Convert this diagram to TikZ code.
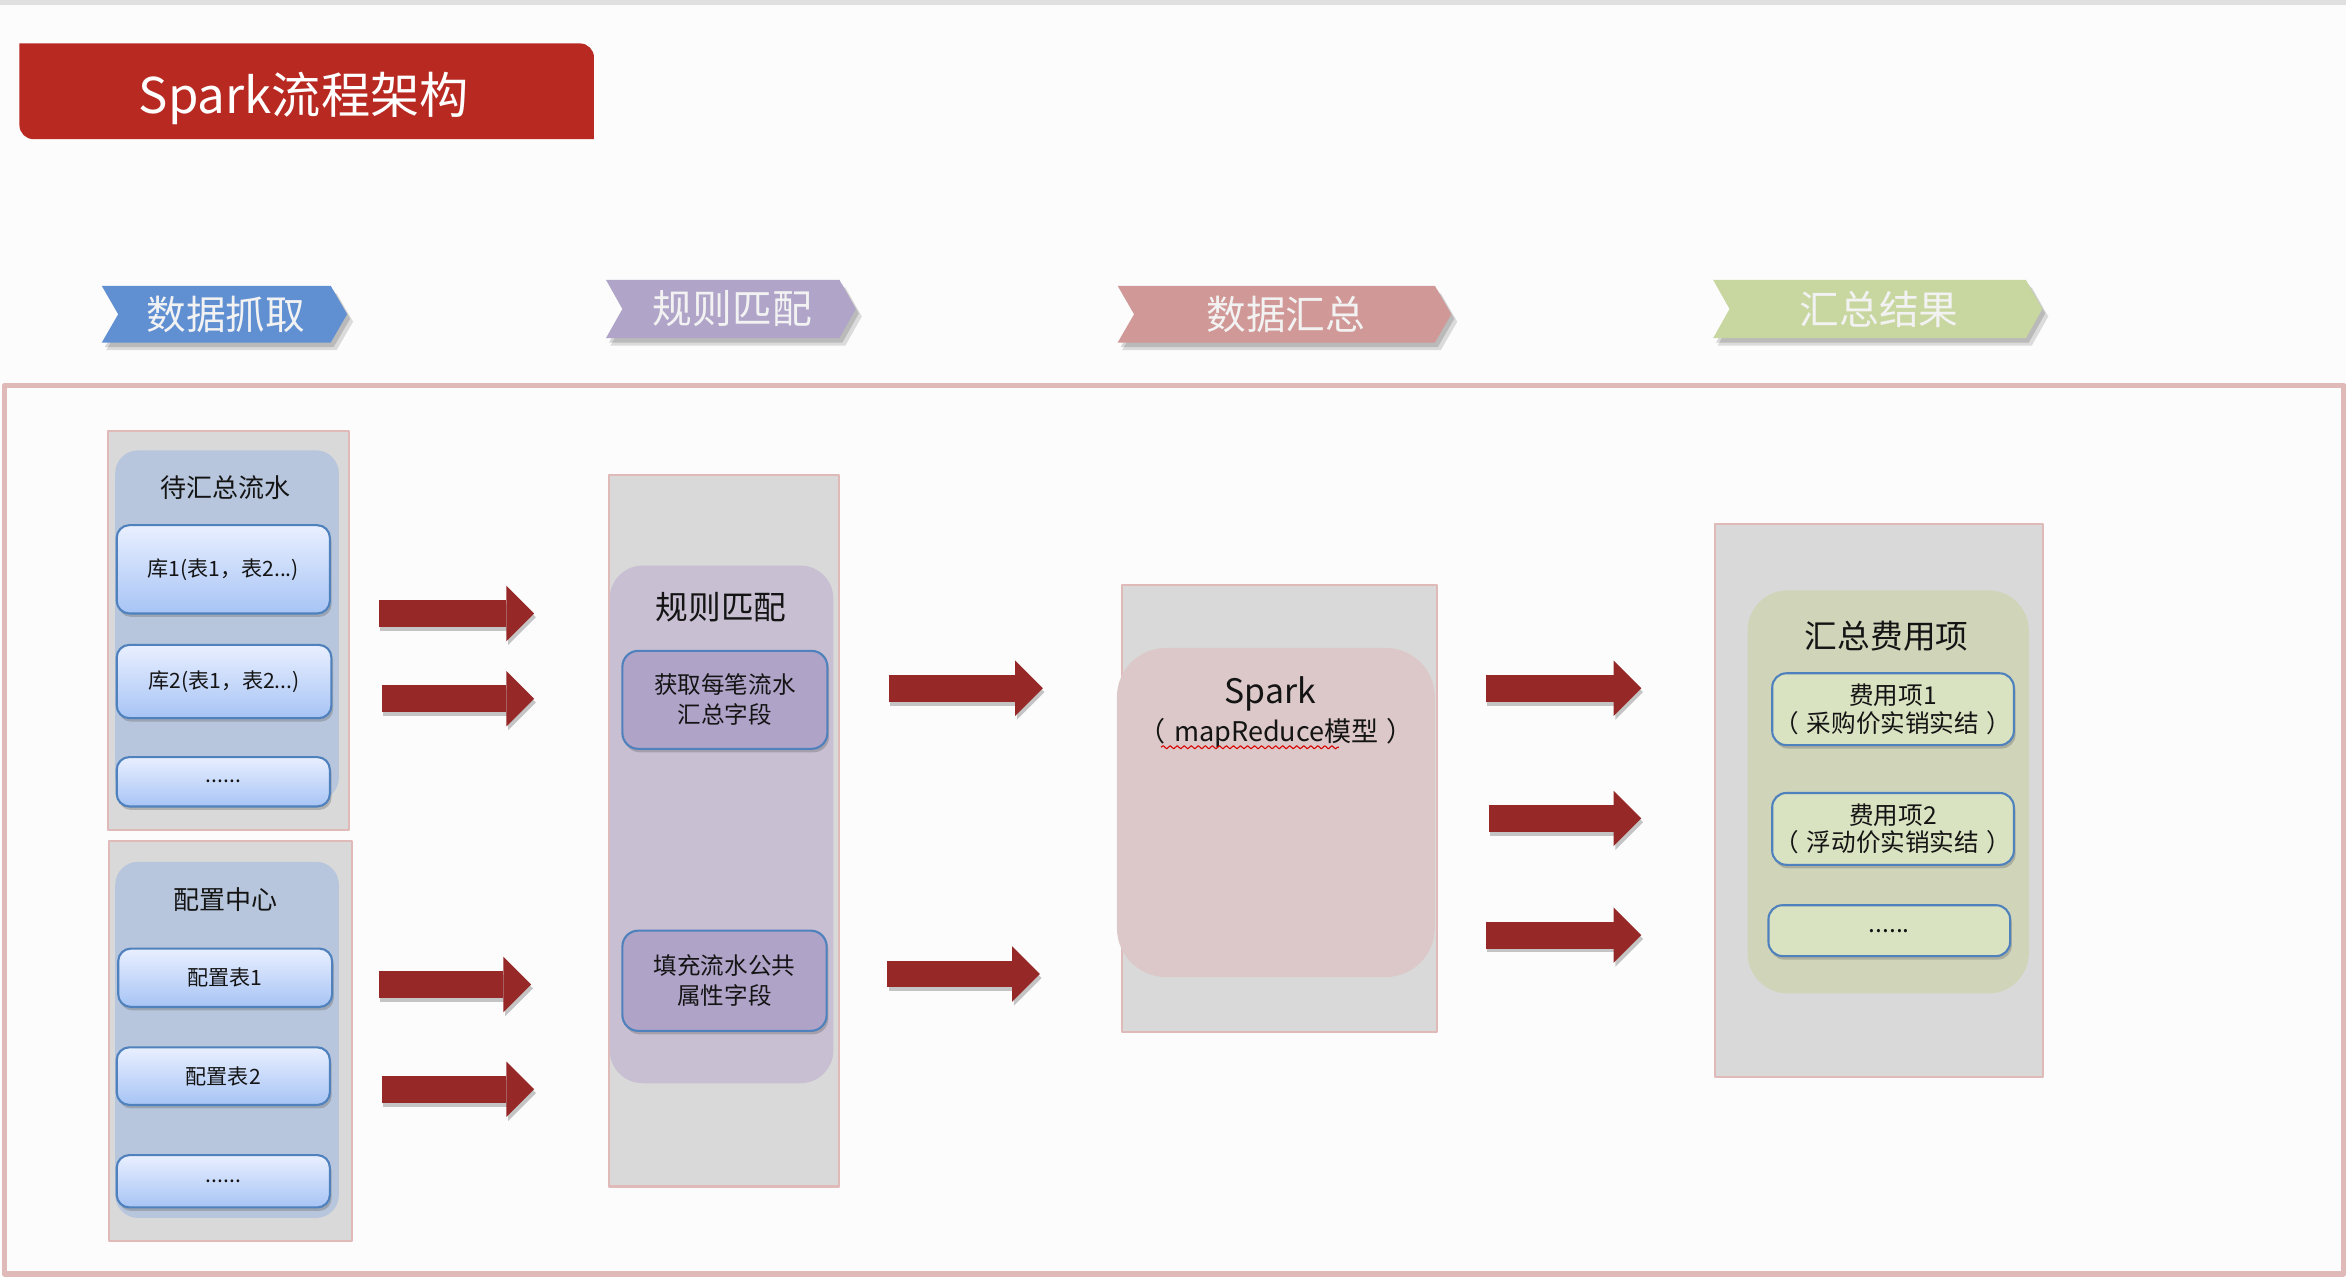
\documentclass[tikz,border=0pt]{standalone}
\usepackage{fontspec}
\setmainfont{Noto Sans CJK SC}
\usetikzlibrary{arrows.meta,fit,shadows,decorations.pathmorphing}
\definecolor{paper}{RGB}{252,252,252}
\definecolor{titlered}{RGB}{184,41,34}
\definecolor{arrowred}{RGB}{150,40,40}
\definecolor{framepink}{RGB}{224,186,184}
\definecolor{panelgray}{RGB}{217,217,217}
\definecolor{stepblue}{RGB}{96,143,210}
\definecolor{steppurple}{RGB}{176,164,200}
\definecolor{steppink}{RGB}{208,152,150}
\definecolor{stepgreen}{RGB}{200,215,160}
\definecolor{groupblue}{RGB}{183,198,220}
\definecolor{grouppurple}{RGB}{200,191,210}
\definecolor{grouppink}{RGB}{220,200,200}
\definecolor{groupgreen}{RGB}{208,213,186}
\definecolor{itemline}{RGB}{79,129,189}
\definecolor{itemtop}{RGB}{233,239,255}
\definecolor{itembottom}{RGB}{167,196,245}
\definecolor{itempurple}{RGB}{175,163,200}
\definecolor{itemgreen}{RGB}{217,226,193}
\definecolor{ink}{RGB}{20,20,20}
\begin{document}
\begin{tikzpicture}[x=0.1496mm, y=-0.1496mm, line join=round, text=ink,
	panel/.style={fill=panelgray, draw=framepink, line width=0.6pt, inner sep=0pt},
	group/.style={fill=#1, inner sep=0pt},
	boxsize/.style 2 args={minimum width=#1*0.1496mm, minimum height=#2*0.1496mm},
	item/.style={draw=itemline, line width=0.6pt, rounded corners=3.6pt, inner sep=0pt, align=center,
		drop shadow={shadow xshift=0.5pt, shadow yshift=-1pt, opacity=0.35, fill=black!60}},
	itemblue/.style={item, top color=itemtop, bottom color=itembottom, font=\fontsize{6}{7.5}\selectfont},
	itempurple/.style={item, fill=itempurple, rounded corners=4.5pt, font=\fontsize{6.7}{8.5}\selectfont},
	itemgreen/.style={item, fill=itemgreen, rounded corners=4pt, font=\fontsize{7}{7.9}\selectfont},
	grouptitle/.style={font=\fontsize{7.4}{9}\selectfont},
	bigtitle/.style={font=\fontsize{9.3}{11}\selectfont},
	steptext/.style={text=white!95!black, font=\fontsize{11.3}{13}\selectfont},
	bigarrow/.style={arrowred, line width=2.69mm, -{Triangle[length=2.77mm, width=5.54mm, line width=0pt]}},
	arrowshade/.style={bigarrow, black, opacity=0.22, transform canvas={shift={(0.5pt,-1.1pt)}}}]
	\useasboundingbox (0,0) rectangle (1568,852.9);
	\fill[paper] (0,0) rectangle (1568,852.9);
	\fill[black!12] (0,0) rectangle (1568,3);
	% title
	\fill[titlered] (13,61) -- (13,29) [rounded corners=4pt] -- (397,29) [sharp corners] -- (397,93) [rounded corners=4pt] -- (13,93) [sharp corners] -- cycle;
	\node[text=white, font=\fontsize{14}{16}\selectfont] (title) at (203,66) {Spark流程架构};
	% steps
	\foreach \n/\xa/\xb/\ya/\yb/\c/\t in {s1/68/232/191/229/stepblue/数据抓取, s2/405/572/187/226/steppurple/规则匹配, s3/747/970/191/229/steppink/数据汇总, s4/1145/1365/187/226/stepgreen/汇总结果} {
		\fill[black, opacity=0.13] (\xa+3,\ya+5) -- (\xb-7,\ya+5) -- (\xb+4,{(\ya+\yb)/2+5}) -- (\xb-7,\yb+5) -- (\xa+3,\yb+5) -- (\xa+14,{(\ya+\yb)/2+5}) -- cycle;
		\fill[black, opacity=0.15] (\xa+2,\ya+3) -- (\xb-9,\ya+3) -- (\xb+2,{(\ya+\yb)/2+3}) -- (\xb-9,\yb+3) -- (\xa+2,\yb+3) -- (\xa+13,{(\ya+\yb)/2+3}) -- cycle;
		\fill[\c] (\xa,\ya) -- (\xb-11,\ya) -- (\xb,{(\ya+\yb)/2}) -- (\xb-11,\yb) -- (\xa,\yb) -- (\xa+11,{(\ya+\yb)/2}) -- cycle;
		\node[steptext] (\n) at ({(\xa+\xb)/2+1},{(\ya+\yb)/2}) {\t};
	}
	\node[draw=framepink, line width=1.5pt, inner sep=0pt, fit={(3,257.5) (1566.5,851.5)}] (stage) {};
	% column 1
	\node[panel, fit={(72,288) (233,555)}] (p1) {};
	\node[group=groupblue, rounded corners=6.5pt, fit={(77,301) (226.5,535)}] (g1) {};
	\node[grouptitle] (g1t) at (151,326) {待汇总流水};
	\node[itemblue, boxsize={142.5}{59}] (k1) at (149.25,380.5) {库1(表1，表2...)};
	\node[itemblue, boxsize={143.5}{49}] (k2) at (149.75,455.5) {库2(表1，表2...)};
	\node[itemblue, boxsize={142.5}{33}] (k3) at (149.25,522.5) {......};
	\node[panel, fit={(73,562) (235,829.5)}] (p2) {};
	\node[group=groupblue, rounded corners=6.5pt, fit={(77,576) (226.5,814)}] (g2) {};
	\node[grouptitle] (g2t) at (151,601) {配置中心};
	\node[itemblue, boxsize={143}{39}] (c1) at (150.5,653.5) {配置表1};
	\node[itemblue, boxsize={142.5}{38.5}] (c2) at (149.25,719.25) {配置表2};
	\node[itemblue, boxsize={142.5}{35}] (c3) at (149.25,789.5) {......};
	% column 2
	\node[panel, fit={(407,317.5) (561,793)}] (p3) {};
	\node[group=grouppurple, rounded corners=9.4pt, fit={(407.5,378) (557,724)}] (g3) {};
	\node[bigtitle] (g3t) at (482,406) {规则匹配};
	\node[itempurple, boxsize={137}{65.5}] (r1) at (484.5,467.75) {获取每笔流水\\汇总字段};
	\node[itempurple, boxsize={136.5}{67}] (r2) at (484.25,655.5) {填充流水公共\\属性字段};
	% column 3
	\node[panel, fit={(750,391) (960.5,689.5)}] (p4) {};
	\node[group=grouppink, rounded corners=14pt, fit={(746.5,433) (959,653)}] (g4) {};
	\node[font=\fontsize{9.6}{11}\selectfont] (spark) at (849,464) {Spark};
	\node[font=\fontsize{7.7}{9}\selectfont, inner sep=0pt] (sparksub) at (853,490) {（\hspace{0.3em}mapReduce模型\hspace{0.3em}）};
	\draw[red!85!black, line width=0.3pt, decorate, decoration={snake, amplitude=0.45pt, segment length=2pt}]
		([shift={(6.5pt,-1.6pt)}]sparksub.base west) -- ([shift={(-21.5pt,-1.6pt)}]sparksub.base east);
	% column 4
	\node[panel, fit={(1146.5,350.5) (1365.5,720)}] (p5) {};
	\node[group=groupgreen, rounded corners=11.5pt, fit={(1168,394.5) (1356,664)}] (g5) {};
	\node[bigtitle] (g5t) at (1261,425) {汇总费用项};
	\node[itemgreen, boxsize={161.5}{48}] (f1) at (1265.25,474) {费用项1\\（\hspace{0.3em}采购价实销实结\hspace{0.3em}）};
	\node[itemgreen, boxsize={161.5}{48}] (f2) at (1265.25,554) {费用项2\\（\hspace{0.3em}浮动价实销实结\hspace{0.3em}）};
	\node[itemgreen, boxsize={161.5}{34}] (f3) at (1262.75,622) {......};
	% arrows
	\foreach \n/\xa/\xb/\yy in {a1/253/357/410, a2/255/357/467, a3/253/355/658, a4/255/357/728, b1/594/697/460, b2/593/695/651, d1/993/1097/460, d2/995/1097/547, d3/993/1097/625} {
		\coordinate (\n-from) at (\xa,\yy);
		\coordinate (\n-to) at (\xb,\yy);
		\draw[arrowshade] (\n-from) -- (\n-to);
		\draw[bigarrow] (\n-from) -- (\n-to);
	}
\end{tikzpicture}
\end{document}
